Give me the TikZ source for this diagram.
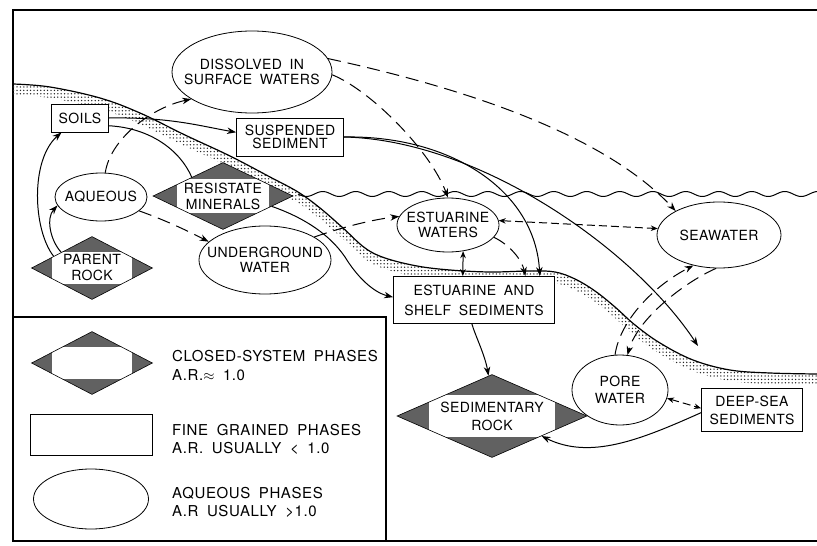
\documentclass[tikz,border=0pt]{standalone}
\usepackage{fontspec}
\setmainfont{TeX Gyre Heros}
\newfontfamily\lblfont[LetterSpace=3,WordSpace=1.8]{TeX Gyre Heros}
\newfontfamily\legfont[LetterSpace=4,WordSpace=1.8]{TeX Gyre Heros}
\usetikzlibrary{shapes.geometric,arrows.meta,patterns,calc}
\pgfdeclarepatternformonly{stipple}{\pgfqpoint{-1pt}{-1pt}}{\pgfqpoint{1pt}{1pt}}{\pgfqpoint{3.4pt}{3.4pt}}{%
  \pgfpathcircle{\pgfqpoint{0pt}{0pt}}{0.75pt}\pgfusepath{fill}}
\newcommand{\zl}[1]{\makebox[0pt]{#1}}
\begin{document}
\begin{tikzpicture}[x=1pt,y=-1pt,
  lbl/.style={font=\lblfont\fontsize{14}{15}\selectfont, align=center, inner sep=0pt},
  aqph/.style={lbl, ellipse, draw, line width=0.8pt, fill=white},
  fgph/.style={lbl, rectangle, draw, line width=0.9pt, fill=white},
  csph/.style={lbl, diamond, draw, line width=0.6pt, fill=black!62,
    path picture={\fill[white] let \p1=(path picture bounding box.south west),
      \p2=(path picture bounding box.north east) in
      ({\x1+0.17*(\x2-\x1)},{\y1+0.25*(\y2-\y1)}) rectangle
      ({\x1+0.83*(\x2-\x1)},{\y1+0.75*(\y2-\y1)});}},
  legtext/.style={font=\legfont\fontsize{15}{20}\selectfont, inner sep=0pt, anchor=base west},
  link/.style={line width=1pt},
  flow/.style={link, -{Stealth[length=9pt,width=6.5pt]}},
  flowtwo/.style={link, {Stealth[length=7pt,width=5.5pt]}-{Stealth[length=7pt,width=5.5pt]}},
  dflow/.style={flow, dash pattern=on 13pt off 7pt},
  dflowtwo/.style={flowtwo, dash pattern=on 8pt off 4pt}
]
\useasboundingbox (0,0) rectangle (817,546);
\fill[white] (0,0) rectangle (817,546);

% frame and legend box
\draw[line width=2.5pt] (817,10) -- (13,10) -- (13,541) -- (817,541);
\draw[line width=1.8pt] (13,317) -- (386,317) -- (386,541);

% seafloor band
\fill[pattern=stipple, pattern color=black!85]
  plot[smooth, tension=0.6] coordinates {(13,84) (50,87) (100,98) (140,113) (185,135) (230,156) (270,177) (298,192) (320,208) (343,228) (365,248) (385,258) (417,266) (450,270) (490,272) (530,271) (555,272) (575,279) (595,291) (615,307) (635,325) (660,343) (693,360) (730,370) (770,373) (817,374)}
  -- plot[smooth, tension=0.6] coordinates {(817,385) (770,384) (730,381) (693,371) (660,354) (635,336) (615,318) (595,302) (575,290) (555,283) (530,282) (490,283) (450,281) (417,277) (385,269) (365,259) (343,239) (320,219) (298,203) (270,188) (230,167) (185,146) (140,124) (100,109) (50,98) (13,95)}
  -- cycle;
\draw[line width=1.2pt] plot[smooth, tension=0.6] coordinates {(13,84) (50,87) (100,98) (140,113) (185,135) (230,156) (270,177) (298,192) (320,208) (343,228) (365,248) (385,258) (417,266) (450,270) (490,272) (530,271) (555,272) (575,279) (595,291) (615,307) (635,325) (660,343) (693,360) (730,370) (770,373) (817,374)};

% sea surface
\draw[line width=1pt] plot[domain=298:817, samples=260, smooth] (\x,{194+2.5*sin((\x-298)*10.909)});

% nodes
\node[aqph, minimum width=160pt, minimum height=82pt] (dis) at (252,72) {\zl{DISSOLVED IN}\\\zl{SURFACE WATERS}};
\node[aqph, minimum width=92pt, minimum height=48pt] (aq) at (101,197) {\zl{AQUEOUS}};
\node[aqph, minimum width=132pt, minimum height=68pt] (ug) at (265,260) {\zl{UNDERGROUND}\\\zl{WATER}};
\node[aqph, minimum width=102pt, minimum height=54pt] (ew) at (448,225) {\zl{ESTUARINE}\\\zl{WATERS}};
\node[aqph, minimum width=124pt, minimum height=66pt] (sw) at (719,235) {\zl{SEAWATER}};
\node[aqph, minimum width=96pt, minimum height=70pt] (pw) at (620,390) {\zl{PORE}\\[2pt]\zl{WATER}};

\node[fgph, minimum width=57pt, minimum height=28pt] (soils) at (80,118) {\zl{SOILS}};
\node[fgph, minimum width=107pt, minimum height=38pt] (ss) at (290,137) {\zl{SUSPENDED}\\[-2pt]\zl{SEDIMENT}};
\node[fgph, minimum width=161pt, minimum height=47pt] (ess) at (474,300) {\zl{ESTUARINE AND}\\[5pt]\zl{SHELF SEDIMENTS}};
\node[fgph, minimum width=101pt, minimum height=43pt] (dss) at (752,410) {\zl{DEEP-SEA}\\[3pt]\zl{SEDIMENTS}};

\node[csph, minimum width=121pt, minimum height=63pt] (pr) at (92,268) {\zl{PARENT}\\[1pt]\zl{ROCK}};
\node[csph, minimum width=140pt, minimum height=67pt] (rm) at (223,196) {\zl{RESISTATE}\\[1pt]\zl{MINERALS}};
\node[csph, minimum width=190pt, minimum height=83pt] (sr) at (492,416) {\zl{SEDIMENTARY}\\[3pt]\zl{ROCK}};

\coordinate (dsarrow) at (698,346);
\coordinate (rmbend) at (345,257);

% connectors
\draw[flow] (pr.163) .. controls (33,230) and (30,160) .. (soils.218);
\draw[flow] (pr.153) .. controls (50,240) and (46,218) .. (aq.191);
\draw[dflow] (aq.80) .. controls (110,140) and (150,108) .. (dis.204);
\draw[dflow] (aq.-20) .. controls (165,220) and (190,232) .. (ug.162);
\draw[flow] (soils.east) .. controls (170,117) and (200,126) .. (ss.175);
\draw[link] (soils.-15) .. controls (150,128) and (180,150) .. (rm.149);
\draw[dflow] (dis.10) .. controls (450,85) and (600,130) .. (sw.151);
\draw[dflow] (dis.-2) .. controls (370,90) and (430,150) .. (ew.90);
\draw[flow] (ss.east) .. controls (450,135) and (535,190) .. (ess.20);
\draw[flow] (ss.east) .. controls (480,140) and (635,250) .. (dsarrow);
\draw[dflow] (ug.25) .. controls (340,228) and (370,220) .. (ew.170);
\draw[flow] (rm.-12) .. controls (305,218) and (330,235) .. (rmbend) .. controls (356,275) and (372,292) .. (ess.178);
\draw[flowtwo] (ew.-60) -- (ess.115);
\draw[dflow] (ew.-15) .. controls (510,245) and (522,260) .. (ess.25);
\draw[dflowtwo] (ew.5) -- (sw.174);
\draw[dflow] (pw.98) .. controls (620,320) and (655,285) .. (sw.-130);
\draw[dflow] (sw.-95) .. controls (685,282) and (638,318) .. (pw.78);
\draw[dflowtwo] (pw.-10) -- (dss.178);
\draw[flow] (dss.183) .. controls (640,440) and (590,460) .. (sr.-22);
\draw[flow] (ess.265) .. controls (475,335) and (485,355) .. (sr.95);

% legend
\node[csph, minimum width=121pt, minimum height=63pt] (lcs) at (92,363) {};
\node[fgph, minimum width=122pt, minimum height=41pt] (lfg) at (91,435) {};
\node[aqph, minimum width=115pt, minimum height=60pt] (laq) at (91,499) {};
\node[legtext] (lcsa) at (172,361) {CLOSED-SYSTEM PHASES};
\node[legtext] (lcsb) at (172,380) {A.R.$\approx$ 1.0};
\node[legtext] (lfga) at (172,435) {FINE GRAINED PHASES};
\node[legtext] (lfgb) at (172,453) {A.R. USUALLY < 1.0};
\node[legtext] (laqa) at (172,498) {AQUEOUS PHASES};
\node[legtext] (laqb) at (172,516) {A.R USUALLY >1.0};
\end{tikzpicture}
\end{document}
